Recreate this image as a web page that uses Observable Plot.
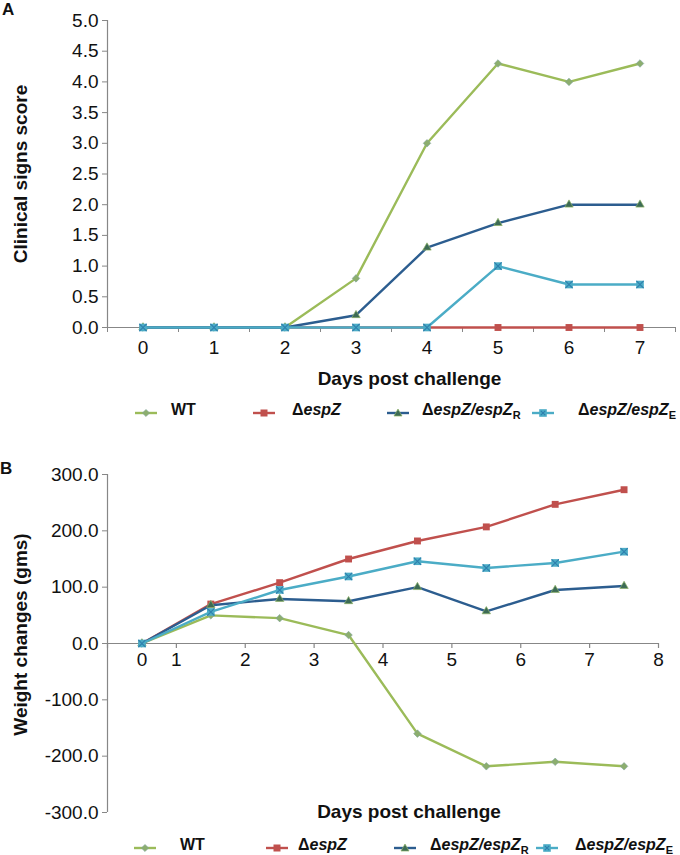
<!DOCTYPE html>
<html><head><meta charset="utf-8">
<script src="https://cdn.jsdelivr.net/npm/d3@7"></script>
<script src="https://cdn.jsdelivr.net/npm/@observablehq/plot@0.6"></script>
<style>
body{margin:0;background:#fff;}
#root{position:relative;width:680px;height:855px;font-family:"Liberation Sans",Arial,sans-serif;color:#111;overflow:hidden;}
.panel{position:absolute;left:0;}
.letter{position:absolute;font-weight:bold;font-size:17px;line-height:17px;}
.legend{position:absolute;left:0;width:680px;height:20px;font-weight:bold;font-size:16px;line-height:20px;}
.sw{position:absolute;top:4px;}
.lab{position:absolute;top:0;white-space:nowrap;}
.lab i{font-style:italic;}
.lab sub{font-size:11px;font-style:normal;vertical-align:-4px;line-height:0;}
</style></head>
<body>
<div id="root">
  <div class="letter" style="left:2px;top:1px">A</div>
  <div class="letter" style="left:0px;top:460px">B</div>
  <div id="panelA" class="panel" style="top:0"></div>
  <div id="legendA" class="legend" style="top:400px"></div>
  <div id="panelB" class="panel" style="top:430px"></div>
  <div id="legendB" class="legend" style="top:835px"></div>
</div>
<script>
// ---------- data ----------
const seriesNames = ["WT", "ΔespZ", "ΔespZ/espZR", "ΔespZ/espZE"];

// Panel A: clinical signs score
const daysA = [0, 1, 2, 3, 4, 5, 6, 7];
const scoreWT   = [0, 0, 0, 0.8, 3.0, 4.3, 4.0, 4.3];
const scoreEspZ = [0, 0, 0, 0, 0, 0, 0, 0];
const scoreR    = [0, 0, 0, 0.2, 1.3, 1.7, 2.0, 2.0];
const scoreE    = [0, 0, 0, 0, 0, 1.0, 0.7, 0.7];
const yTicksA = [0, 0.5, 1, 1.5, 2, 2.5, 3, 3.5, 4, 4.5, 5];
const xTickEdgesA = [-0.5, 0.5, 1.5, 2.5, 3.5, 4.5, 5.5, 6.5, 7.5];

// Panel B: weight changes
const daysB = [0.5, 1.5, 2.5, 3.5, 4.5, 5.5, 6.5, 7.5];
const weightWT   = [0, 50, 45, 15, -160, -218, -210, -218];
const weightEspZ = [0, 70, 108, 150, 182, 207, 247, 273];
const weightR    = [0, 68, 79, 75, 100, 57, 95, 102];
const weightE    = [0, 56, 95, 119, 146, 134, 143, 163];
const yTicksB = [-300, -200, -100, 0, 100, 200, 300];
const xTickMarksB = [0, 1, 2, 3, 4, 5, 6, 7, 8];
const xTickLabelPosB = [0.5, 1, 2, 3, 4, 5, 6, 7, 8];
const xTickLabelsB = ["0", "1", "2", "3", "4", "5", "6", "7", "8"];

const yTitleA = "Clinical signs score";
const yTitleB = "Weight changes (gms)";
const xTitle = "Days post challenge";

// ---------- styles ----------
const FONT = '"Liberation Sans", Arial, sans-serif';
const axisGray = "#878787";
const lineColors = ["#9BBB59", "#C0504D", "#2C5D8F", "#4BACC6"];

function rows(xs, ys) { return xs.map((x, i) => ({x, y: ys[i]})); }

function seriesMarks(data, k) {
  const out = [Plot.line(data, {x: "x", y: "y", stroke: lineColors[k], strokeWidth: 2.4})];
  if (k === 0) out.push(Plot.dot(data, {x: "x", y: "y", symbol: "diamond2", r: 3.4, fill: "#8CAE6E", stroke: "#7FA3A0", strokeWidth: 0.6}));
  if (k === 1) out.push(Plot.dot(data, {x: "x", y: "y", symbol: "square", r: 3.9, fill: "#C0504D"}));
  if (k === 2) out.push(Plot.dot(data, {x: "x", y: "y", symbol: "triangle", r: 3.1, fill: "#3D6B55", stroke: "#8CB266", strokeWidth: 0.7}));
  if (k === 3) {
    out.push(Plot.dot(data, {x: "x", y: "y", symbol: "square", r: 4.3, fill: "#4BACC6"}));
    out.push(Plot.dot(data, {x: "x", y: "y", symbol: "times", r: 3.4, fill: "none", stroke: "#2E7FAD", strokeWidth: 1.1}));
  }
  return out;
}

const baseStyle = {fontFamily: FONT, fontSize: "19px", color: "#111", background: "transparent", overflow: "visible"};

// ---------- Panel A ----------
const seriesA = [scoreWT, scoreEspZ, scoreR, scoreE].map(ys => rows(daysA, ys));
const plotA = Plot.plot({
  width: 680, height: 390,
  marginLeft: 107, marginRight: 5, marginTop: 20, marginBottom: 63,
  style: baseStyle,
  x: {domain: [-0.5, 7.5], axis: null, label: null},
  y: {domain: [0, 5], axis: null, label: null},
  marks: [
    Plot.ruleX([-0.5], {stroke: axisGray, strokeWidth: 1.2}),
    Plot.axisY(yTicksA, {tickSize: 5, tickPadding: 4, tickFormat: d => d.toFixed(1), stroke: axisGray, fill: "#111", label: null}),
    Plot.axisX(xTickEdgesA, {tickSize: 5, tickFormat: () => "", stroke: axisGray, label: null}),
    Plot.axisX(daysA, {tickSize: 0, tickPadding: 13, tickFormat: d => String(d), fill: "#111", label: null}),
    Plot.ruleY([0], {stroke: axisGray, strokeWidth: 1.2}),
    ...seriesA.flatMap((d, k) => seriesMarks(d, k)),
    Plot.text([yTitleA], {text: d => d, frameAnchor: "left", textAnchor: "middle", lineAnchor: "middle", rotate: -90, dx: -87, fontWeight: "bold", fontSize: 19, fill: "#111"}),
    Plot.text([xTitle], {text: d => d, frameAnchor: "bottom", textAnchor: "middle", lineAnchor: "middle", dx: 18, dy: 51, fontWeight: "bold", fontSize: 19, fill: "#111"})
  ]
});
document.getElementById("panelA").appendChild(plotA);

// ---------- Panel B ----------
const seriesB = [weightWT, weightEspZ, weightR, weightE].map(ys => rows(daysB, ys));
const tickLabelRowsB = xTickLabelPosB.map((p, i) => ({x: p, label: xTickLabelsB[i]}));
const plotB = Plot.plot({
  width: 680, height: 400,
  marginLeft: 107, marginRight: 22, marginTop: 44, marginBottom: 18,
  style: baseStyle,
  x: {domain: [0, 8], axis: null, label: null},
  y: {domain: [-300, 300], axis: null, label: null},
  marks: [
    Plot.ruleX([0], {stroke: axisGray, strokeWidth: 1.2}),
    Plot.axisY(yTicksB, {tickSize: 5, tickPadding: 4, tickFormat: d => d.toFixed(1), stroke: axisGray, fill: "#111", label: null}),
    Plot.ruleY([0], {stroke: axisGray, strokeWidth: 1.2}),
    Plot.ruleX(xTickMarksB, {x: d => d, y1: 0, y2: 0, insetBottom: -5, stroke: axisGray, strokeWidth: 1.2}),
    Plot.text(tickLabelRowsB, {x: "x", y: 0, text: "label", dy: 16, lineAnchor: "middle", fill: "#111", fontSize: 19}),
    ...seriesB.flatMap((d, k) => seriesMarks(d, k)),
    Plot.text([yTitleB], {text: d => d, frameAnchor: "left", textAnchor: "middle", lineAnchor: "middle", rotate: -90, dx: -87, dy: -9, fontWeight: "bold", fontSize: 19, fill: "#111"}),
    Plot.text([xTitle], {text: d => d, frameAnchor: "bottom", textAnchor: "middle", lineAnchor: "middle", dx: 26, dy: -1, fontWeight: "bold", fontSize: 19, fill: "#111"})
  ]
});
document.getElementById("panelB").appendChild(plotB);

// ---------- Legends ----------
function labelHTML(name) {
  if (name === "WT") return "WT";
  const m = name.match(/^Δ(espZ)(\/espZ)?([RE])?$/);
  let s = "Δ<i>" + m[1] + (m[2] || "") + "</i>";
  if (m[3]) s += "<sub>" + m[3] + "</sub>";
  return s;
}
function swatchSVG(k) {
  const c = lineColors[k];
  let mk = "";
  if (k === 0) mk = '<polygon points="11,2.4 14.6,6 11,9.6 7.4,6" fill="#8CAE6E" stroke="#7FA3A0" stroke-width="0.6"/>';
  if (k === 1) mk = '<rect x="7.5" y="2.5" width="7" height="7" fill="#C0504D"/>';
  if (k === 2) mk = '<polygon points="11,2 15,9 7,9" fill="#3D6B55" stroke="#8CB266" stroke-width="0.7"/>';
  if (k === 3) mk = '<rect x="7.2" y="2.2" width="7.6" height="7.6" fill="#4BACC6"/><path d="M8.8,3.8L13.2,8.2M13.2,3.8L8.8,8.2" stroke="#2E7FAD" stroke-width="1.1"/>';
  return '<svg width="22" height="12"><line x1="0" y1="6" x2="22" y2="6" stroke="' + c + '" stroke-width="2.4"/>' + mk + '</svg>';
}
function buildLegend(id, swX, labX) {
  const el = document.getElementById(id);
  seriesNames.forEach((n, k) => {
    const sw = document.createElement("div");
    sw.className = "sw"; sw.style.left = swX[k] + "px"; sw.innerHTML = swatchSVG(k);
    const lab = document.createElement("div");
    lab.className = "lab"; lab.style.left = labX[k] + "px"; lab.innerHTML = labelHTML(n);
    el.appendChild(sw); el.appendChild(lab);
  });
}
buildLegend("legendA", [135, 253, 387, 532], [171, 292, 422, 578]);
buildLegend("legendB", [134, 266, 394, 536], [180, 298, 430, 575]);
</script>
</body></html>
